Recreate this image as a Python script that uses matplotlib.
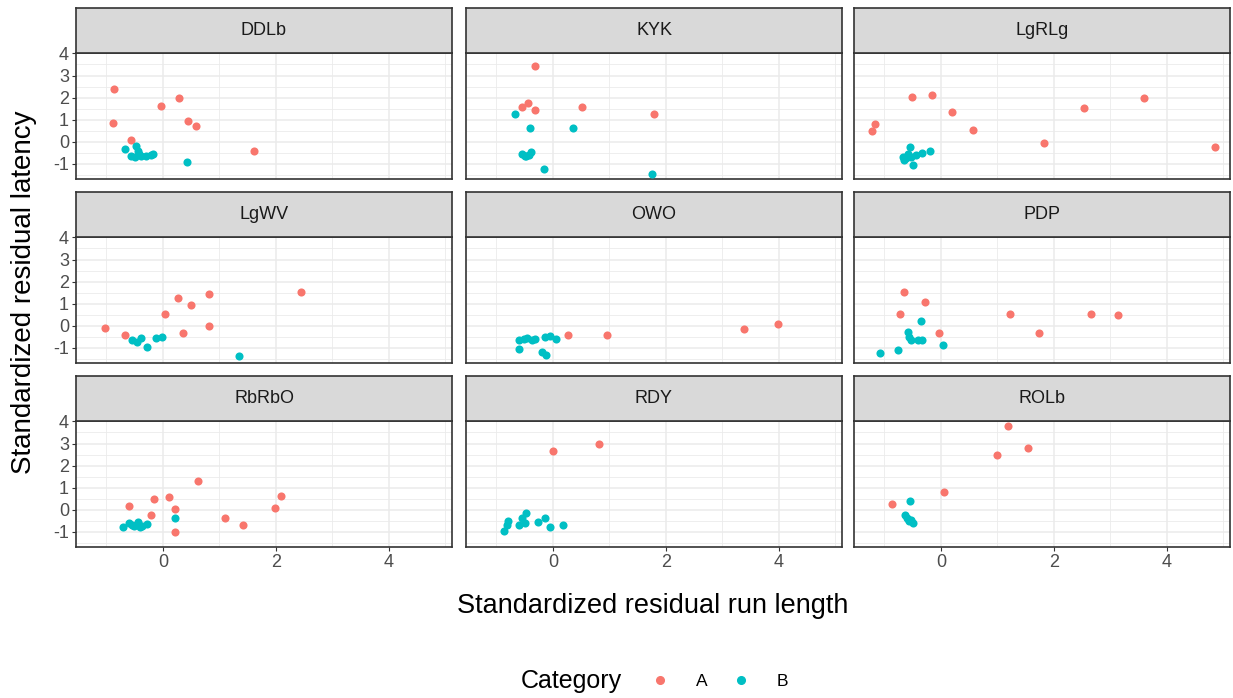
import matplotlib
matplotlib.use("Agg")
import matplotlib.pyplot as plt
from matplotlib.lines import Line2D

plt.rcParams['font.family'] = ['Liberation Sans', 'DejaVu Sans']
plt.rcParams['axes.unicode_minus'] = False

panels = ["DDLb", "KYK", "LgRLg", "LgWV", "OWO", "PDP", "RbRbO", "RDY", "ROLb"]

# values, category A (red) and B (teal) per panel
ddlb_a_x = [-0.86, -0.89, -0.03, 0.29, 0.45, 0.59, -0.57, 1.61]
ddlb_a_y = [2.40, 0.85, 1.60, 1.99, 0.94, 0.70, 0.07, -0.42]
ddlb_b_x = [-0.68, -0.47, -0.56, -0.50, -0.43, -0.38, -0.30, -0.22, -0.17, -0.45, 0.43]
ddlb_b_y = [-0.34, -0.18, -0.62, -0.68, -0.55, -0.65, -0.62, -0.58, -0.55, -0.42, -0.90]

kyk_a_x = [-0.32, -0.54, -0.45, -0.31, 0.51, 1.79]
kyk_a_y = [3.42, 1.57, 1.77, 1.42, 1.57, 1.26]
kyk_b_x = [-0.67, -0.40, 0.35, -0.55, -0.48, -0.42, -0.38, -0.50, -0.15, 1.76]
kyk_b_y = [1.26, 0.64, 0.63, -0.55, -0.62, -0.60, -0.45, -0.65, -1.23, -1.45]

lgrlg_a_x = [-1.23, -1.17, -0.51, -0.15, 0.20, 0.57, 1.83, 2.53, 3.60, 4.85]
lgrlg_a_y = [0.48, 0.79, 2.05, 2.14, 1.35, 0.54, -0.03, 1.51, 1.99, -0.25]
lgrlg_b_x = [-0.54, -0.68, -0.65, -0.59, -0.50, -0.44, -0.33, -0.20, -0.62, -0.53]
lgrlg_b_y = [-0.22, -0.67, -0.82, -0.55, -1.05, -0.60, -0.52, -0.40, -0.75, -0.68]

lgwv_a_x = [-1.02, -0.67, 0.03, 0.26, 0.49, 0.35, 0.81, 0.81, 2.44]
lgwv_a_y = [-0.09, -0.40, 0.55, 1.27, 0.96, -0.31, 1.42, 0.00, 1.51]
lgwv_b_x = [-0.54, -0.46, -0.38, -0.28, -0.13, -0.02, 1.35]
lgwv_b_y = [-0.64, -0.72, -0.57, -0.97, -0.57, -0.49, -1.37]

owo_a_x = [0.27, 0.96, 3.38, 3.99]
owo_a_y = [-0.42, -0.42, -0.16, 0.07]
owo_b_x = [-0.61, -0.46, -0.32, -0.14, -0.05, 0.05, -0.61, -0.20, -0.12, -0.52, -0.37]
owo_b_y = [-0.64, -0.57, -0.60, -0.49, -0.46, -0.60, -1.04, -1.19, -1.31, -0.60, -0.64]

pdp_a_x = [-0.66, -0.28, -0.73, -0.03, 1.23, 1.74, 2.66, 3.14]
pdp_a_y = [1.51, 1.10, 0.55, -0.31, 0.55, -0.31, 0.55, 0.48]
pdp_b_x = [-0.35, -0.59, -0.56, -0.53, -0.41, -0.33, 0.04, -0.76, -1.08]
pdp_b_y = [0.24, -0.27, -0.49, -0.64, -0.64, -0.64, -0.88, -1.10, -1.21]

rbrbo_a_x = [-0.60, -0.16, 0.10, -0.22, 0.22, 0.22, 0.62, 1.10, 1.41, 1.99, 2.09]
rbrbo_a_y = [0.19, 0.49, 0.58, -0.22, 0.03, -1.01, 1.30, -0.37, -0.70, 0.10, 0.64]
rbrbo_b_x = [-0.71, -0.61, -0.52, -0.45, -0.37, -0.28, -0.55, -0.40, 0.22]
rbrbo_b_y = [-0.79, -0.60, -0.72, -0.57, -0.75, -0.63, -0.68, -0.79, -0.39]

rdy_a_x = [0.00, 0.81]
rdy_a_y = [2.66, 2.99]
rdy_b_x = [-0.86, -0.82, -0.79, -0.61, -0.55, -0.48, -0.49, -0.27, -0.14, -0.05, 0.17]
rdy_b_y = [-0.94, -0.67, -0.52, -0.70, -0.37, -0.15, -0.60, -0.55, -0.37, -0.78, -0.69]

rolb_a_x = [1.18, 1.55, 0.99, 0.06, -0.86]
rolb_a_y = [3.78, 2.81, 2.49, 0.81, 0.25]
rolb_b_x = [-0.54, -0.63, -0.59, -0.56, -0.50, -0.61, -0.53]
rolb_b_y = [0.42, -0.22, -0.42, -0.52, -0.60, -0.35, -0.48]

data_a = [(ddlb_a_x, ddlb_a_y), (kyk_a_x, kyk_a_y), (lgrlg_a_x, lgrlg_a_y),
          (lgwv_a_x, lgwv_a_y), (owo_a_x, owo_a_y), (pdp_a_x, pdp_a_y),
          (rbrbo_a_x, rbrbo_a_y), (rdy_a_x, rdy_a_y), (rolb_a_x, rolb_a_y)]
data_b = [(ddlb_b_x, ddlb_b_y), (kyk_b_x, kyk_b_y), (lgrlg_b_x, lgrlg_b_y),
          (lgwv_b_x, lgwv_b_y), (owo_b_x, owo_b_y), (pdp_b_x, pdp_b_y),
          (rbrbo_b_x, rbrbo_b_y), (rdy_b_x, rdy_b_y), (rolb_b_x, rolb_b_y)]

col_a = "#F8766D"
col_b = "#00BFC4"

W, H = 1233, 698
fig = plt.figure(figsize=(W / 100, H / 100), dpi=100)

col_left = [76, 466, 854]
panel_w = 376
row_top = [53, 237, 421]   # top of plotting area (px)
panel_h = 126
strip_h = 45

for i, name in enumerate(panels):
    r, c = divmod(i, 3)
    left = col_left[c] / W
    bottom = 1 - (row_top[r] + panel_h) / H
    ax = fig.add_axes([left, bottom, panel_w / W, panel_h / H])
    ax.scatter(data_a[i][0], data_a[i][1], s=34, color=col_a, zorder=3, linewidths=0)
    ax.scatter(data_b[i][0], data_b[i][1], s=34, color=col_b, zorder=3, linewidths=0)
    ax.set_xlim(-1.54, 5.12)
    ax.set_ylim(-1.68, 4.02)
    ax.set_xticks([0, 2, 4])
    ax.set_xticks([-1, 1, 3, 5], minor=True)
    ax.set_yticks([-1, 0, 1, 2, 3, 4])
    ax.set_yticks([-1.5, -0.5, 0.5, 1.5, 2.5, 3.5], minor=True)
    ax.grid(which="major", color="#EBEBEB", lw=1.1, zorder=0)
    ax.grid(which="minor", color="#EBEBEB", lw=0.6, zorder=0)
    ax.set_axisbelow(True)
    for sp in ax.spines.values():
        sp.set_color("#333333")
        sp.set_linewidth(1.2)
    ax.tick_params(which="major", length=3, color="#333333", labelcolor="#4D4D4D",
                   labelsize=13, pad=2)
    ax.tick_params(which="minor", length=0)
    if c != 0:
        ax.tick_params(axis="y", labelleft=False, length=0)
    if r != 2:
        ax.tick_params(axis="x", labelbottom=False, length=0)

    # strip
    sax = fig.add_axes([left, 1 - row_top[r] / H, panel_w / W, strip_h / H])
    sax.set_facecolor("#D9D9D9")
    sax.set_xticks([])
    sax.set_yticks([])
    for sp in sax.spines.values():
        sp.set_color("#333333")
        sp.set_linewidth(1.2)
    sax.text(0.5, 0.5, name, ha="center", va="center", fontsize=13, color="#1A1A1A",
             transform=sax.transAxes)

fig.text(653 / W, 1 - 606 / H, "Standardized residual run length", ha="center",
         va="center", fontsize=19.5)
fig.text(24 / W, 1 - 292 / H, "Standardized residual latency", ha="center",
         va="center", rotation=90, fontsize=20)

# legend
fig.text(571 / W, 1 - 681 / H, "Category", ha="center", va="center", fontsize=18)
handles = [Line2D([], [], marker="o", ls="", color=col_a, markersize=5.5),
           Line2D([], [], marker="o", ls="", color=col_b, markersize=5.5)]
fig.legend(handles, ["A", "B"], ncol=2, frameon=False, loc="center left",
           bbox_to_anchor=(634 / W, 1 - 681 / H), fontsize=12.5,
           handletextpad=1.45, columnspacing=1.35, handlelength=1.2)

plt.savefig("out.png", dpi=100)
